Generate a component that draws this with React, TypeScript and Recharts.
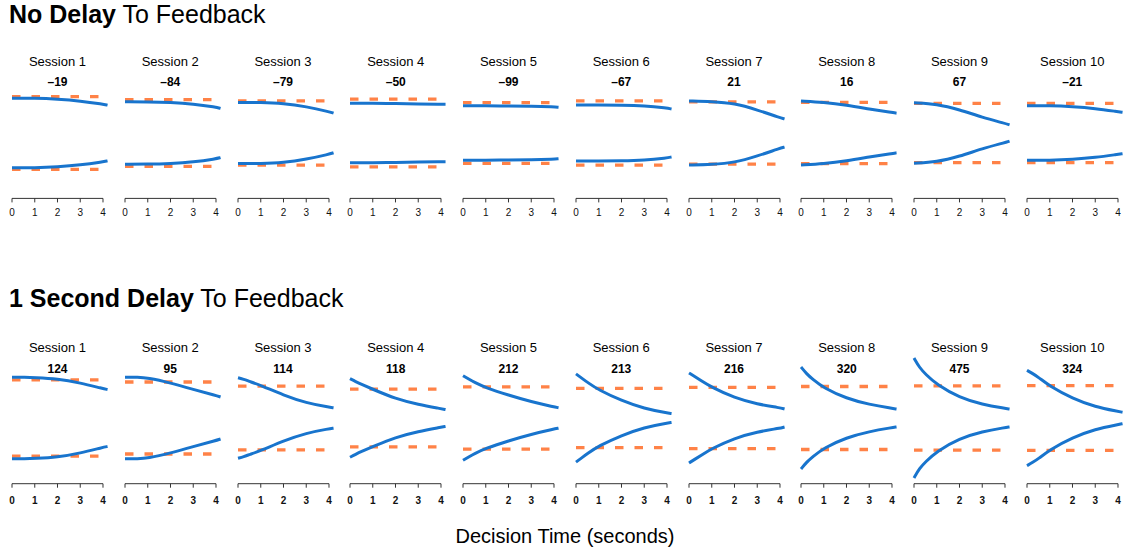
import { LineChart, Line, XAxis, YAxis, ReferenceLine } from "recharts";

// decision times (s) at which the bounds were read
const timesNoDelay = [0, 1, 2, 3, 4, 4.2];
const timesDelay = [0, 0.25, 0.5, 1, 2, 3, 4, 4.2];

const sessions = ["Session 1", "Session 2", "Session 3", "Session 4", "Session 5", "Session 6", "Session 7", "Session 8", "Session 9", "Session 10"];

// upper collapsing bound per session (lower bound is the mirror image)
const boundNoDelay = [
  [1.16, 1.16, 1.13, 1.07, 0.96, 0.93],
  [1.04, 1.04, 1.02, 0.97, 0.86, 0.82],
  [1.02, 1.02, 0.99, 0.88, 0.71, 0.66],
  [0.99, 0.99, 0.98, 0.97, 0.96, 0.96],
  [0.91, 0.91, 0.9, 0.89, 0.87, 0.86],
  [0.93, 0.93, 0.93, 0.91, 0.83, 0.8],
  [1.07, 1.05, 0.99, 0.77, 0.51, 0.47],
  [1.07, 1.02, 0.93, 0.8, 0.68, 0.66],
  [1.01, 0.97, 0.78, 0.52, 0.32, 0.27],
  [0.91, 0.91, 0.88, 0.82, 0.71, 0.69],
];
const boundDelay = [
  [1.36, 1.36, 1.36, 1.35, 1.31, 1.17, 0.98, 0.95],
  [1.36, 1.36, 1.36, 1.34, 1.17, 0.95, 0.75, 0.7],
  [1.34, 1.29, 1.22, 1.09, 0.76, 0.5, 0.36, 0.34],
  [1.31, 1.21, 1.12, 0.96, 0.64, 0.45, 0.31, 0.28],
  [1.41, 1.3, 1.19, 1.01, 0.76, 0.54, 0.37, 0.34],
  [1.47, 1.33, 1.19, 0.93, 0.58, 0.31, 0.17, 0.15],
  [1.5, 1.38, 1.26, 1.02, 0.67, 0.46, 0.34, 0.3],
  [1.7, 1.47, 1.3, 1.0, 0.65, 0.45, 0.32, 0.3],
  [2.0, 1.67, 1.47, 1.11, 0.68, 0.45, 0.32, 0.3],
  [1.59, 1.48, 1.36, 1.06, 0.65, 0.37, 0.22, 0.19],
];

// fixed (dashed) bounds
const thresholdNoDelay = [1.21, 1.11, 1.07, 1.13, 1.01, 1.07, 1.04, 1.02, 0.99, 0.99];
const thresholdDelay = [1.27, 1.2, 1.06, 0.96, 1.04, 0.99, 1.02, 1.05, 1.07, 1.08];

const diffNoDelay = [-19, -84, -79, -50, -99, -67, 21, 16, 67, -21];
const diffDelay = [124, 95, 114, 118, 212, 213, 216, 320, 475, 324];

const xTicks = [0, 1, 2, 3, 4];

const FONT = '"Liberation Sans", Arial, Helvetica, sans-serif';
const BLUE = "#1874CD";
const ORANGE = "#FF8247";
const AXIS = "#333";

const PANEL_X0 = 12;
const PANEL_STEP = 112.75;
const PX_PER_SEC = 22.75;
const PX_PER_UNIT = 30;
const X_MAX = 4.2;
const SIDE = 8;
const AXIS_H = 28;

const rows = [
  {
    bold: "No Delay", times: timesNoDelay, bounds: boundNoDelay, thresholds: thresholdNoDelay, diffs: diffNoDelay,
    centerY: 133, yMin: -2.18, yMax: 1.5, boldTicks: false, tickMargin: 7, titleY: 23.3, sessionY: 66.3, diffY: 86,
  },
  {
    bold: "1 Second Delay", times: timesDelay, bounds: boundDelay, thresholds: thresholdDelay, diffs: diffDelay,
    centerY: 418.4, yMin: -2.19, yMax: 2.1, boldTicks: true, tickMargin: 9, titleY: 306.7, sessionY: 351.5, diffY: 372.7,
  },
];

const fmt = (n: number) => (n < 0 ? "\u2013" + Math.abs(n) : String(n));

function Panel({ row, i }: { row: (typeof rows)[number]; i: number }) {
  const thr = row.thresholds[i];
  const data = row.times.map((t, k) => ({
    t,
    upper: row.bounds[i][k],
    lower: -row.bounds[i][k],
    thrUp: thr,
    thrLow: -thr,
  }));
  const plotH = (row.yMax - row.yMin) * PX_PER_UNIT;
  const top = row.centerY - row.yMax * PX_PER_UNIT;
  const left = PANEL_X0 + i * PANEL_STEP - SIDE;
  return (
    <div style={{ position: "absolute", left, top }}>
      <LineChart
        width={X_MAX * PX_PER_SEC + SIDE * 2}
        height={plotH + AXIS_H}
        data={data}
        margin={{ top: 0, right: SIDE, bottom: 0, left: SIDE }}
      >
        <XAxis
          type="number"
          dataKey="t"
          domain={[0, X_MAX]}
          ticks={xTicks}
          interval={0}
          axisLine={false}
          tickSize={4}
          tickMargin={row.tickMargin}
          stroke={AXIS}
          height={AXIS_H}
          tick={{ fontSize: 10, fill: "#111", fontFamily: FONT, fontWeight: row.boldTicks ? 700 : 400 }}
        />
        <YAxis type="number" domain={[row.yMin, row.yMax]} hide />
        <ReferenceLine
          segment={[{ x: 0, y: row.yMin }, { x: 4, y: row.yMin }]}
          stroke={AXIS}
          strokeWidth={1}
          ifOverflow="visible"
        />
        <Line dataKey="thrUp" stroke={ORANGE} strokeWidth={3.3} strokeDasharray="8.5 11" dot={false} isAnimationActive={false} />
        <Line dataKey="thrLow" stroke={ORANGE} strokeWidth={3.3} strokeDasharray="8.5 11" dot={false} isAnimationActive={false} />
        <Line type="basis" dataKey="upper" stroke={BLUE} strokeWidth={3} dot={false} isAnimationActive={false} />
        <Line type="basis" dataKey="lower" stroke={BLUE} strokeWidth={3} dot={false} isAnimationActive={false} />
      </LineChart>
    </div>
  );
}

export default function App() {
  return (
    <div style={{ position: "absolute", left: 0, top: 0, width: 1123, height: 552, background: "#fff", fontFamily: FONT }}>
      {rows.map((row, r) => sessions.map((_, i) => <Panel key={r + "-" + i} row={row} i={i} />))}
      <svg width={1123} height={552} style={{ position: "absolute", left: 0, top: 0, pointerEvents: "none" }} fontFamily={FONT}>
        {rows.map((row, r) => (
          <g key={r}>
            <text x={9} y={row.titleY} fontSize={25} fill="#000">
              <tspan fontWeight="bold">{row.bold}</tspan> To Feedback
            </text>
            {sessions.map((s, i) => {
              const cx = PANEL_X0 + i * PANEL_STEP + 2 * PX_PER_SEC;
              return (
                <g key={s}>
                  <text x={cx} y={row.sessionY} fontSize={13} textAnchor="middle" fill="#000">{s}</text>
                  <text x={cx} y={row.diffY} fontSize={12} fontWeight="bold" textAnchor="middle" fill="#000">{fmt(row.diffs[i])}</text>
                </g>
              );
            })}
          </g>
        ))}
        <text x={565} y={543} fontSize={20} textAnchor="middle" fill="#000">Decision Time (seconds)</text>
      </svg>
    </div>
  );
}
